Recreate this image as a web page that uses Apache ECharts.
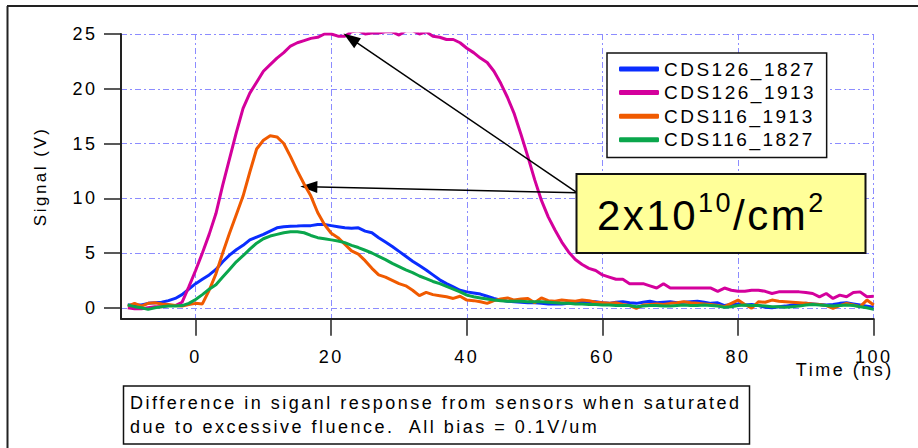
<!DOCTYPE html>
<html>
<head>
<meta charset="utf-8">
<title>Signal vs Time</title>
<script src="https://cdn.jsdelivr.net/npm/echarts@6/dist/echarts.min.js"></script>
<style>
  html, body { margin: 0; padding: 0; background: #fff; }
  #chart { width: 918px; height: 448px; }
  /* the original plot has widely spaced lettering */
  #chart text { letter-spacing: 2.5px; white-space: pre; }
</style>
</head>
<body>
<div id="chart"></div>
<script>
// time samples (ns)
const times = [
  -10, -9, -8, -7, -6, -5, -4, -3, -2, -1,
  0, 1, 2, 3, 4, 5, 6, 7, 8, 9,
  10, 11, 12, 13, 14, 15, 16, 17, 18, 19,
  20, 21, 22, 23, 24, 25, 26, 27, 28, 29,
  30, 31, 32, 33, 34, 35, 36, 37, 38, 39,
  40, 41, 42, 43, 44, 45, 46, 47, 48, 49,
  50, 51, 52, 53, 54, 55, 56, 57, 58, 59,
  60, 61, 62, 63, 64, 65, 66, 67, 68, 69,
  70, 71, 72, 73, 74, 75, 76, 77, 78, 79,
  80, 81, 82, 83, 84, 85, 86, 87, 88, 89,
  90, 91, 92, 93, 94, 95, 96, 97, 98, 99,
  100
]

const cds126_1827 = [
  0.25, 0.25, 0.25, 0.4, 0.45, 0.5, 0.65, 0.85, 1.2, 1.7,
  2.2, 2.6, 3.0, 3.5, 4.2, 4.8, 5.3, 5.7, 6.2, 6.45,
  6.7, 7.0, 7.3, 7.4, 7.45, 7.47, 7.5, 7.5, 7.6, 7.6,
  7.5, 7.4, 7.3, 7.25, 7.3, 7.0, 6.85, 6.4, 6.0, 5.6,
  5.15, 4.7, 4.25, 3.85, 3.45, 3.0, 2.55, 2.2, 1.9, 1.6,
  1.45, 1.35, 1.25, 1.05, 0.85, 0.7, 0.6, 0.55, 0.5, 0.45,
  0.45, 0.4, 0.35, 0.35, 0.35, 0.4, 0.45, 0.5, 0.55, 0.55,
  0.45, 0.4, 0.5, 0.55, 0.45, 0.4, 0.5, 0.6, 0.45, 0.5,
  0.55, 0.45, 0.5, 0.55, 0.6, 0.5, 0.4, 0.45, 0.2, 0.3,
  0.35, 0.25, 0.3, 0.2, 0.05, 0.0, 0.1, 0.15, 0.25, 0.35,
  0.4, 0.35, 0.3, 0.25, 0.3, 0.4, 0.45, 0.35, 0.25, 0.15,
  0.05
]

const cds126_1913 = [
  0.0, -0.1, -0.1, 0.0, 0.1, 0.1, 0.2, 0.2, 0.5, 1.9,
  3.4, 5.0, 6.7, 8.6, 11.2, 13.6, 16.0, 18.2, 19.6, 20.6,
  21.6, 22.2, 22.8, 23.3, 23.9, 24.2, 24.4, 24.6, 24.7, 25.0,
  25.0, 24.8, 24.8, 25.2, 25.3, 25.0, 25.1, 25.1, 25.2, 25.2,
  24.9, 25.3, 25.3, 25.0, 25.2, 24.8, 24.7, 24.5, 24.5, 24.2,
  23.7, 23.3, 22.8, 22.4, 21.6, 20.5, 19.2, 17.7, 15.8, 13.8,
  11.7, 9.8, 8.3, 7.1, 6.0, 5.1, 4.4, 3.95, 3.6, 3.4,
  3.0, 2.8, 2.6, 2.6, 2.2, 2.2, 2.2, 2.0, 1.8, 2.2,
  1.8, 1.8, 1.8, 1.8, 1.8, 1.8, 1.8, 1.5, 1.8, 1.6,
  1.5, 1.5, 1.6, 1.6, 1.5, 1.3, 1.45, 1.45, 1.45, 1.45,
  1.4, 1.3, 1.0, 1.3, 0.85, 1.15, 1.0, 1.4, 1.45, 1.0,
  1.05
]

const cds116_1913 = [
  0.15, 0.4, 0.15, 0.4, 0.45, 0.35, 0.3, 0.2, 0.15, 0.3,
  0.4, 0.35, 1.6, 3.1, 5.0, 6.8, 8.5, 10.2, 12.4, 14.5,
  15.3, 15.7, 15.6, 15.0, 13.8, 12.5, 11.3, 10.2, 8.7, 7.6,
  6.8, 6.4, 5.8, 5.2, 4.9, 4.3, 3.6, 3.0, 2.8, 2.5,
  2.2, 2.0, 1.6, 1.1, 1.4, 1.2, 1.1, 1.0, 0.85, 1.05,
  0.7, 0.65, 0.55, 0.4, 0.65, 0.8, 0.9, 0.7, 0.8, 0.85,
  0.45, 0.9, 0.65, 0.6, 0.7, 0.65, 0.6, 0.7, 0.65, 0.5,
  0.45, 0.4, 0.45, 0.3, 0.2, -0.05, 0.25, 0.3, 0.35, 0.3,
  0.4, 0.45, 0.55, 0.45, 0.4, 0.35, 0.3, 0.2, 0.1, 0.4,
  0.7, 0.3, -0.05, 0.55, 0.5, 0.7, 0.6, 0.55, 0.5, 0.45,
  0.4, 0.35, 0.3, 0.2, -0.05, 0.2, 0.4, 0.25, 0.1, 0.7,
  0.25
]

const cds116_1827 = [
  0.25, 0.1, 0.0, -0.15, 0.0, 0.1, 0.15, 0.15, 0.2, 0.4,
  0.75, 1.2, 1.7, 2.1, 2.8, 3.5, 4.2, 4.75, 5.35, 5.9,
  6.3, 6.55, 6.7, 6.85, 6.95, 6.95, 6.85, 6.6, 6.4, 6.3,
  6.2, 6.1, 5.95, 5.7, 5.5, 5.25, 5.0, 4.7, 4.4, 4.05,
  3.75, 3.45, 3.2, 2.9, 2.65, 2.4, 2.2, 1.95, 1.7, 1.45,
  1.15, 1.0, 0.9, 0.8, 0.7, 0.65, 0.6, 0.6, 0.6, 0.55,
  0.55, 0.55, 0.5, 0.45, 0.4, 0.4, 0.35, 0.35, 0.3, 0.3,
  0.25, 0.25, 0.2, 0.2, 0.2, 0.1, 0.15, 0.2, 0.2, 0.15,
  0.15, 0.2, 0.25, 0.2, 0.2, 0.25, 0.2, 0.15, 0.05, 0.1,
  0.2, 0.25, 0.2, 0.2, 0.15, 0.1, 0.1, 0.05, 0.1, 0.15,
  0.25, 0.3, 0.25, 0.2, 0.15, 0.2, 0.25, 0.2, 0.1, 0.0,
  -0.15
]

const seriesNames = ['CDS126_1827', 'CDS126_1913', 'CDS116_1913', 'CDS116_1827']
const seriesValues = [cds126_1827, cds126_1913, cds116_1913, cds116_1827]
const seriesColors = ['#0a2dff', '#d4009c', '#f05a00', '#0aa64c']

const xTicks = [0, 20, 40, 60, 80, 100]
const yTicks = [0, 5, 10, 15, 20, 25]

// arrows from the fluence box to the two 1913 curves (start, tip) in data units
const arrowFrom = [56.3, 10.5]
const arrowTips = [[22.85, 24.6], [16.7, 11.05]]

const FONT = "'Liberation Sans', Arial, sans-serif"
const gridColor = '#8c8cff'
const axisColor = '#222'

const chartDom = document.getElementById('chart')
const myChart = echarts.init(chartDom, null, { renderer: 'svg' })

const series = seriesNames.map((name, i) => ({
  name: name,
  type: 'line',
  data: times.map((t, k) => [t, seriesValues[i][k]]),
  showSymbol: false,
  symbol: 'none',
  lineStyle: { color: seriesColors[i], width: 3 },
  itemStyle: { color: seriesColors[i] },
  animation: false,
  z: 3 + i
}))

// annotation arrows hang off the pink series
series[1].markLine = {
  silent: true,
  symbol: ['none', 'triangle'],
  symbolSize: [12, 17],
  label: { show: false },
  emphasis: { disabled: true },
  lineStyle: { color: '#000', width: 1.5, type: 'solid' },
  data: arrowTips.map(tip => [{ coord: arrowFrom }, { coord: tip }]),
  animation: false
}

const option = {
  backgroundColor: '#fff',
  textStyle: { fontFamily: FONT },
  grid: { left: 121, right: 44.3, top: 34, bottom: 129.3, containLabel: false, outerBoundsMode: 'none' },
  legend: {
    data: seriesNames,
    orient: 'vertical',
    left: 607,
    top: 53,
    padding: [6, 38, 7.6, 12],
    itemWidth: 40,
    itemHeight: 5,
    itemGap: 3.6,
    icon: 'roundRect',
    backgroundColor: '#fff',
    borderColor: '#111',
    borderWidth: 1.5,
    textStyle: { fontFamily: FONT, fontSize: 19, color: '#000', lineHeight: 20 }
  },
  xAxis: {
    type: 'value',
    min: -11,
    max: 100,
    name: 'Time (ns)',
    nameLocation: 'end',
    nameGap: 20,
    nameMoveOverlap: false,
    nameTextStyle: {
      fontFamily: FONT, fontSize: 18, color: '#000',
      align: 'right', verticalAlign: 'top', padding: [42, 0, 0, 0]
    },
    axisLine: { show: true, onZero: false, lineStyle: { color: axisColor, width: 2 } },
    axisTick: { show: true, inside: false, length: 17, customValues: xTicks, lineStyle: { color: axisColor, width: 1.5 } },
    axisLabel: { customValues: xTicks, margin: 29, fontFamily: FONT, fontSize: 18, color: '#000' },
    splitLine: { show: true, lineStyle: { color: gridColor, width: 1, type: [6, 3, 2, 3] } }
  },
  yAxis: {
    type: 'value',
    min: -1,
    max: 25,
    name: 'Signal (V)',
    nameLocation: 'middle',
    nameRotate: 90,
    nameGap: 72,
    nameTextStyle: { fontFamily: FONT, fontSize: 17, color: '#000' },
    axisLine: { show: true, onZero: false, lineStyle: { color: axisColor, width: 2 } },
    axisTick: { show: true, inside: false, length: 17, customValues: yTicks, lineStyle: { color: axisColor, width: 1.5 } },
    axisLabel: { customValues: yTicks, margin: 23.5, fontFamily: FONT, fontSize: 18, color: '#000' },
    splitLine: { show: true, lineStyle: { color: gridColor, width: 1, type: [6, 3, 2, 3] } }
  },
  graphic: [
    // page frame (top and left edge of the original figure)
    { type: 'line', shape: { x1: 7, y1: 6, x2: 918, y2: 6 }, style: { stroke: '#222', lineWidth: 2 }, silent: true },
    { type: 'line', shape: { x1: 7.5, y1: 6, x2: 7.5, y2: 448 }, style: { stroke: '#222', lineWidth: 2 }, silent: true },
    // fluence box
    {
      type: 'rect',
      z: 100,
      shape: { x: 576.5, y: 174, width: 289, height: 79 },
      style: { fill: '#ffff99', stroke: '#111', lineWidth: 2 },
      silent: true
    },
    {
      type: 'text',
      z: 101,
      x: 597,
      y: 189,
      silent: true,
      style: {
        // padding makes room for the css letter spacing of the previous token
        text: '{a|2x10}{s1|10}{a2|/cm}{s2|2}',
        fill: '#000',
        verticalAlign: 'top',
        rich: {
          a: { fontFamily: FONT, fontSize: 42, lineHeight: 52, fill: '#000' },
          s1: { fontFamily: FONT, fontSize: 27, lineHeight: 29, verticalAlign: 'top', fill: '#000', padding: [0, 0, 0, 10] },
          a2: { fontFamily: FONT, fontSize: 42, lineHeight: 52, fill: '#000', padding: [0, 0, 0, 5] },
          s2: { fontFamily: FONT, fontSize: 27, lineHeight: 29, verticalAlign: 'top', fill: '#000', padding: [0, 0, 0, 7.5] }
        }
      }
    },
    // caption box
    {
      type: 'rect',
      z: 100,
      shape: { x: 123.5, y: 386, width: 626, height: 58 },
      style: { fill: '#fff', stroke: '#111', lineWidth: 1.5 },
      silent: true
    },
    {
      type: 'text',
      z: 101,
      x: 130,
      y: 391,
      silent: true,
      style: {
        text: 'Difference in siganl response from sensors when saturated\ndue to excessive fluence.  All bias = 0.1V/um',
        fontFamily: FONT,
        fontSize: 18,
        lineHeight: 23.7,
        fill: '#000',
        verticalAlign: 'top'
      }
    }
  ],
  series: series
}

option && myChart.setOption(option)
</script>
</body>
</html>
